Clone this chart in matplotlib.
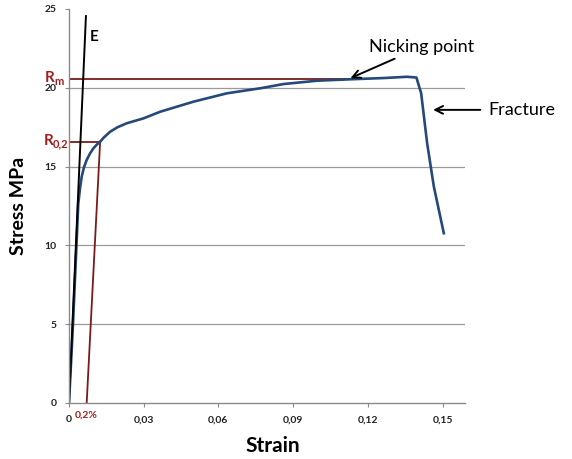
import numpy as np
from matplotlib import pyplot as plt

plt.rcParams['font.family'] = ['Lato', 'DejaVu Sans']

# Curva tension-deformacion
strain = [0, 0.0016, 0.0030, 0.0037, 0.0044, 0.0051, 0.0060, 0.0071, 0.0085,
          0.0098, 0.0112, 0.0125, 0.0140, 0.0165, 0.0195, 0.0232, 0.0299,
          0.0366, 0.0500, 0.0634, 0.0768, 0.0862, 0.0996, 0.1130, 0.1264,
          0.1358, 0.1395, 0.1414, 0.1438, 0.1465, 0.1505]
stress = [0, 5.0, 10.0, 12.6, 13.6, 14.36, 14.95, 15.42, 15.85,
          16.16, 16.40, 16.58, 16.85, 17.21, 17.50, 17.75, 18.06,
          18.48, 19.12, 19.65, 19.97, 20.24, 20.45, 20.54, 20.62,
          20.70, 20.65, 19.65, 16.48, 13.72, 10.77]

# Recta elastica E
e_strain = [0, 0.0068]
e_stress = [0, 24.55]

# Recta desplazada 0,2%
off_strain = [0.0071, 0.0125]
off_stress = [0, 16.58]

Rp02 = 16.58
Rm = 20.56
nicking_strain = 0.113

xticks = [0, 0.03, 0.06, 0.09, 0.12, 0.15]
xticklabels = ['0', '0,03', '0,06', '0,09', '0,12', '0,15']
yticks = [0, 5, 10, 15, 20, 25]

red = '#7a1a1a'
red_txt = '#a01e1e'
blue = '#24497a'

fig = plt.figure(figsize=(5.72, 4.59), dpi=100)
ax = fig.add_axes([69/572, 1-403/459, 396/572, 394/459])

ax.set_xlim(0, 0.159)
ax.set_ylim(0, 25)

for y in [5, 10, 15, 20]:
    ax.axhline(y, color='#9a9a9a', linewidth=0.9, zorder=0)

ax.plot(off_strain, off_stress, color=red, linewidth=1.3)
ax.plot([0, off_strain[1]], [Rp02, Rp02], color=red, linewidth=1.3)
ax.plot([0, nicking_strain], [Rm, Rm], color=red, linewidth=1.3)
ax.plot(strain, stress, color=blue, linewidth=1.9)
ax.plot(e_strain, e_stress, color='black', linewidth=1.4)

for s in ['top', 'right']:
    ax.spines[s].set_visible(False)
for s in ['left', 'bottom']:
    ax.spines[s].set_color('#8a8a8a')
    ax.spines[s].set_linewidth(1.0)

ax.set_xticks(xticks)
ax.set_xticklabels(xticklabels)
ax.set_yticks(yticks)
ax.tick_params(axis='both', length=3, color='#8a8a8a', labelsize=7.5)
ax.tick_params(axis='x', pad=6)
ax.tick_params(axis='y', pad=6)
for lbl in ax.get_xticklabels() + ax.get_yticklabels():
    lbl.set_fontweight('bold')
    lbl.set_color('#222222')

ax.text(off_strain[0], -0.5, '0,2%', color=red_txt, fontsize=7.5, fontweight='bold',
        ha='center', va='top')

ax.set_xlabel('Strain', fontsize=15, fontweight='bold')
ax.xaxis.set_label_coords(0.515, -0.085)
ax.set_ylabel('Stress MPa', fontsize=14, fontweight='bold')
ax.yaxis.set_label_coords(-0.105, 0.5)

# etiquetas R
tr = ax.get_yaxis_transform()
ax.text(-0.037, Rm + 0.05, 'R', transform=tr, color=red_txt, fontsize=11,
        fontweight='bold', ha='right', va='center')
ax.text(-0.037, Rm - 0.15, 'm', transform=tr, color=red_txt, fontsize=8,
        fontweight='bold', ha='left', va='center')
ax.text(-0.040, Rp02 + 0.05, 'R', transform=tr, color=red_txt, fontsize=11,
        fontweight='bold', ha='right', va='center')
ax.text(-0.040, Rp02 - 0.15, '0,2', transform=tr, color=red_txt, fontsize=8,
        fontweight='bold', ha='left', va='center')

ax.text(0.0085, 23.2, 'E', fontsize=11, fontweight='bold', ha='left', va='center')

ax.annotate('Nicking point', xy=(nicking_strain, Rm + 0.05), xytext=(0.1205, 22.6),
            fontsize=13, ha='left', va='center',
            arrowprops=dict(arrowstyle='->', color='black', lw=1.4,
                            shrinkA=2, shrinkB=0, mutation_scale=14))
ax.annotate('Fracture', xy=(0.1462, 18.6), xytext=(0.1685, 18.6),
            fontsize=13, ha='left', va='center', annotation_clip=False,
            arrowprops=dict(arrowstyle='->', color='black', lw=1.4,
                            shrinkA=4, shrinkB=0, mutation_scale=14))

fig.savefig('out.png', dpi=100)
